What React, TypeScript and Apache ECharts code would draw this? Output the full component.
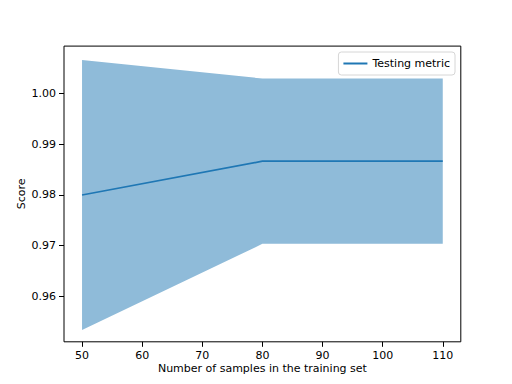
import React, { useEffect, useRef } from "react";
import * as echarts from "echarts";

const trainSizes = [50, 80, 110];
const testMean = [0.98, 0.98667, 0.98667];
const testStd = [0.02667, 0.01633, 0.01633];
const xTicks = [50, 60, 70, 80, 90, 100, 110];
const yTicks = [0.96, 0.97, 0.98, 0.99, 1.0];

const FONT = "DejaVu Sans";

export default function App() {
  const ref = useRef<HTMLDivElement>(null);
  useEffect(() => {
    if (!ref.current) return;
    const chart = echarts.init(ref.current, null, { renderer: "svg" });
    const bandData = trainSizes.map((x, i) => [x, testMean[i] - testStd[i], testMean[i] + testStd[i]]);
    const lineData = trainSizes.map((x, i) => [x, testMean[i]]);
    chart.setOption({
      animation: false,
      backgroundColor: "#ffffff",
      textStyle: { fontFamily: FONT },
      grid: {
        left: 64,
        right: 51.2,
        top: 46.1,
        bottom: 42.2,
        show: true,
        borderColor: "#000",
        borderWidth: 1,
        backgroundColor: "transparent",
      },
      legend: {
        show: true,
        right: 57,
        top: 52,
        data: [{ name: "Testing metric", icon: "rect" }],
        orient: "vertical",
        itemWidth: 24,
        itemHeight: 2,
        itemGap: 4,
        padding: [6, 5, 6, 5],
        borderColor: "#d6d6d6",
        borderWidth: 1,
        borderRadius: 3,
        backgroundColor: "#fff",
        textStyle: { fontFamily: FONT, fontSize: 11, color: "#000" },
      },
      xAxis: {
        type: "value",
        min: 47,
        max: 113,
        name: "Number of samples in the training set",
        nameLocation: "middle",
        nameMoveOverlap: false,
        nameGap: 21,
        nameTextStyle: { fontFamily: FONT, fontSize: 11, color: "#000" },
        axisLine: { show: false },
        axisTick: { show: true, length: 5, customValues: xTicks, lineStyle: { color: "#000", width: 1 } },
        axisLabel: {
          customValues: xTicks,
          margin: 8,
          fontFamily: FONT,
          fontSize: 11,
          color: "#000",
        },
        splitLine: { show: false },
      },
      yAxis: {
        type: "value",
        min: 0.951,
        max: 1.0094,
        name: "Score",
        nameLocation: "middle",
        nameMoveOverlap: false,
        nameGap: 37,
        nameTextStyle: { fontFamily: FONT, fontSize: 11, color: "#000" },
        axisLine: { show: false },
        axisTick: { show: true, length: 5, customValues: yTicks, lineStyle: { color: "#000", width: 1 } },
        axisLabel: {
          customValues: yTicks,
          margin: 8,
          fontFamily: FONT,
          fontSize: 11,
          color: "#000",
          formatter: (v: number) => v.toFixed(2),
        },
        splitLine: { show: false },
      },
      series: [
        {
          type: "custom",
          name: "band",
          data: bandData,
          clip: true,
          z: 1,
          renderItem: (params: any, api: any) => {
            if (params.dataIndex !== 0) return null;
            const upper = bandData.map((d) => api.coord([d[0], d[2]]));
            const lower = bandData.map((d) => api.coord([d[0], d[1]])).reverse();
            return {
              type: "polygon",
              shape: { points: upper.concat(lower) },
              style: { fill: "#8fbbd9", stroke: "none" },
            };
          },
          encode: { x: 0, y: [1, 2] },
        },
        {
          type: "line",
          name: "Testing metric",
          data: lineData,
          symbol: "none",
          showSymbol: false,
          z: 3,
          color: "#1f77b4",
          lineStyle: { color: "#1f77b4", width: 1.7 },
        },
      ],
    });
    return () => chart.dispose();
  }, []);
  return (
    <div
      ref={ref}
      style={{ position: "fixed", left: 0, top: 0, width: 512, height: 384 }}
    />
  );
}
